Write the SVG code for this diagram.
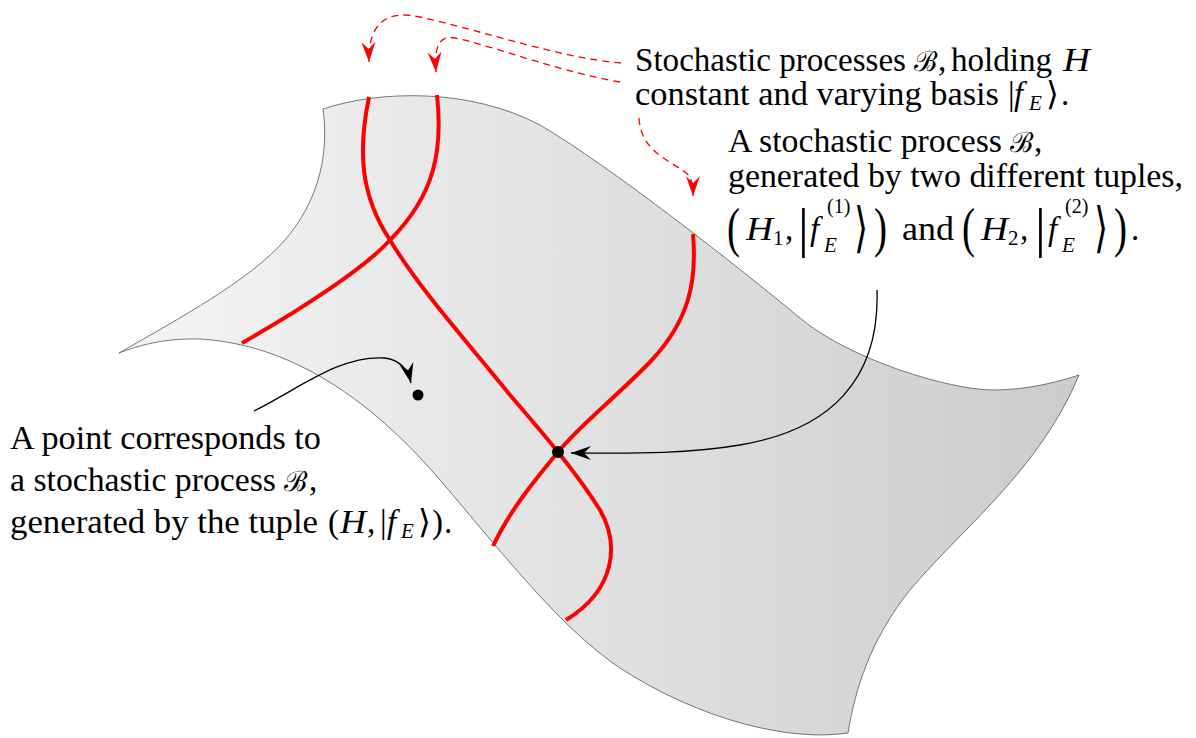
<svg xmlns="http://www.w3.org/2000/svg" width="1196" height="738" viewBox="0 0 1196 738">
<defs>
<linearGradient id="sheet" gradientUnits="userSpaceOnUse" x1="119" y1="0" x2="1079" y2="0">
<stop offset="0" stop-color="#f5f5f5"/>
<stop offset="1" stop-color="#cccccc"/>
</linearGradient>
<marker id="hr" viewBox="-21 -8 22 16" refX="0" refY="0" markerWidth="22" markerHeight="16" markerUnits="userSpaceOnUse" orient="auto">
<path d="M0,0 L-20,-7 L-13,0 L-20,7 Z" fill="#ff0000"/>
</marker>
<marker id="hb" viewBox="-21 -8 22 16" refX="0" refY="0" markerWidth="22" markerHeight="16" markerUnits="userSpaceOnUse" orient="auto">
<path d="M0,0 L-20,-7 L-13,0 L-20,7 Z" fill="#000000"/>
</marker>
<style>
.t{font-size:33px;fill:#000}
.i{font-style:italic}
.s{font-size:21px}
.sup{font-size:20px}
.cal{font-size:28px}
.big{font-size:54px}
.red{fill:none;stroke:#ff0000;stroke-width:4;stroke-linecap:butt}
.dash{fill:none;stroke:#ff0000;stroke-width:1.3;stroke-dasharray:7 5;marker-end:url(#hr)}
.blk{fill:none;stroke:#000;stroke-width:1.3;marker-end:url(#hb)}
</style>
</defs>

<g id="surface">
<path d="M323,109 C380,90 470,88 540,125 C610,166 740,268 800,318 C850,360 950,390 993,390 C1025,390 1055,383 1079,375 C1040,470 960,530 910,590 C870,640 855,690 848,733 C790,742 700,720 620,668 C560,628 500,550 440,480 C380,410 300,345 200,339 C165,338 140,345 119,353 C180,318 250,280 285,240 C315,205 330,160 323,109 Z" fill="url(#sheet)" stroke="#555" stroke-width="0.8"/>
</g>

<g id="red-curves">
<path class="red" d="M369,97 C358,150 360,195 390,240 C420,290 470,345 510,395 C540,430 575,470 600,510 C620,545 615,590 566,620"/>
<path class="red" d="M437,95 C443,150 435,195 390,240 C365,268 300,310 242,343"/>
<path class="red" d="M693,234 C697,280 690,320 650,362 C615,398 580,425 558,452 C535,480 510,510 493,546"/>
</g>

<g id="point-single"><circle cx="418" cy="395" r="5.5" fill="#000"/></g>
<g id="point-double"><circle cx="558" cy="452" r="6" fill="#000"/></g>

<g id="connectors">
<path class="dash" d="M621,63 C560,58 480,30 420,17 C385,9 368,25 369,62"/>
<path class="dash" d="M620,82 C560,72 490,45 455,38 C440,35 434,45 436,72"/>
<path class="dash" d="M639,118 C641,150 665,158 685,172 C692,177 693,185 693,196"/>
<path class="blk" d="M254,411 C300,388 340,355 385,358 C400,360 408,370 411,383"/>
<path class="blk" d="M877,290 C880,380 830,430 740,445 C680,455 620,453 571,453"/>
</g>

<g id="label-family" font-family="Liberation Serif, serif">
<text class="t" x="635" y="71" textLength="271" lengthAdjust="spacingAndGlyphs">Stochastic processes</text>
<text class="t cal" x="914" y="71">ℬ</text>
<text class="t" x="938" y="71">,</text>
<text class="t" x="951" y="71" textLength="101" lengthAdjust="spacingAndGlyphs">holding</text>
<text class="t i" x="1063" y="71" textLength="27" lengthAdjust="spacingAndGlyphs">H</text>
<text class="t" x="635" y="105" textLength="364" lengthAdjust="spacingAndGlyphs">constant and varying basis</text>
<text class="t" x="1008" y="105">|</text>
<text class="t i" x="1014" y="105">f</text>
<text class="t i s" x="1029" y="110">E</text>
<text class="t" x="1046" y="105">⟩</text>
<text class="t" x="1061" y="105">.</text>
</g>

<g id="label-double" font-family="Liberation Serif, serif">
<text class="t" x="728" y="152" textLength="274" lengthAdjust="spacingAndGlyphs">A stochastic process</text>
<text class="t cal" x="1010" y="152">ℬ</text>
<text class="t" x="1034" y="152">,</text>
<text class="t" x="728" y="187" textLength="455" lengthAdjust="spacingAndGlyphs">generated by two different tuples,</text>
<text class="t big" x="727" y="246" textLength="13" lengthAdjust="spacingAndGlyphs">(</text>
<text class="t i" x="746" y="240" textLength="27" lengthAdjust="spacingAndGlyphs">H</text>
<text class="t s" x="773" y="245">1</text>
<text class="t" x="785" y="240">,</text>
<text class="t big" x="798" y="246">|</text>
<text class="t i" x="810" y="240">f</text>
<text class="t sup" x="827" y="213">(1)</text>
<text class="t i s" x="824" y="252">E</text>
<text class="t big" x="854" y="246" textLength="14" lengthAdjust="spacingAndGlyphs">⟩</text>
<text class="t big" x="874" y="246" textLength="13" lengthAdjust="spacingAndGlyphs">)</text>
<text class="t" x="902" y="240" textLength="52" lengthAdjust="spacingAndGlyphs">and</text>
<text class="t big" x="962" y="246" textLength="13" lengthAdjust="spacingAndGlyphs">(</text>
<text class="t i" x="981" y="240" textLength="27" lengthAdjust="spacingAndGlyphs">H</text>
<text class="t s" x="1008" y="245">2</text>
<text class="t" x="1020" y="240">,</text>
<text class="t big" x="1035" y="246">|</text>
<text class="t i" x="1048" y="240">f</text>
<text class="t sup" x="1065" y="213">(2)</text>
<text class="t i s" x="1062" y="252">E</text>
<text class="t big" x="1094" y="246" textLength="14" lengthAdjust="spacingAndGlyphs">⟩</text>
<text class="t big" x="1114" y="246" textLength="13" lengthAdjust="spacingAndGlyphs">)</text>
<text class="t" x="1131" y="240">.</text>
</g>

<g id="label-single" font-family="Liberation Serif, serif">
<text class="t" x="10" y="449" textLength="311" lengthAdjust="spacingAndGlyphs">A point corresponds to</text>
<text class="t" x="10" y="491" textLength="266" lengthAdjust="spacingAndGlyphs">a stochastic process</text>
<text class="t cal" x="284" y="491">ℬ</text>
<text class="t" x="309" y="491">,</text>
<text class="t" x="10" y="533" textLength="308" lengthAdjust="spacingAndGlyphs">generated by the tuple</text>
<text class="t" x="328" y="533">(</text>
<text class="t i" x="340" y="533" textLength="26" lengthAdjust="spacingAndGlyphs">H</text>
<text class="t" x="367" y="533">,</text>
<text class="t" x="380" y="533">|</text>
<text class="t i" x="387" y="533">f</text>
<text class="t i s" x="401" y="538">E</text>
<text class="t" x="418" y="533">⟩</text>
<text class="t" x="432" y="533">)</text>
<text class="t" x="444" y="533">.</text>
</g>
</svg>
